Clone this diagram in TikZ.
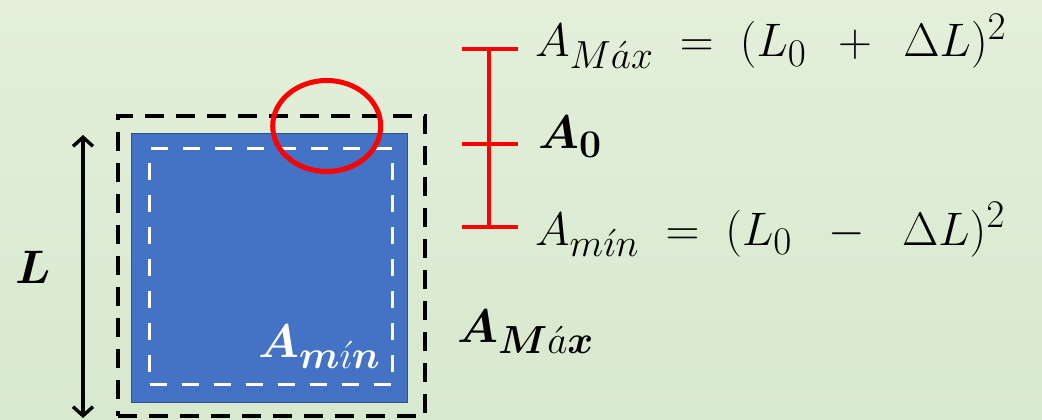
\documentclass[tikz,border=0pt]{standalone}
\usepackage{graphicx}
\usepackage{bm}
\usetikzlibrary{arrows.meta,shapes.geometric}
\definecolor{bgtop}{HTML}{E3EFDA}
\definecolor{bgbot}{HTML}{D7E9CE}
\definecolor{sqblue}{HTML}{4472C4}
\definecolor{sqedge}{HTML}{2F528F}
\newcommand\mybigmath[1]{\scalebox{1.89}{\Huge$#1$}}
\tikzset{
  eqtext/.style={inner sep=0pt, anchor=base west},
  redbar/.style={draw=red, line width=4pt},
  blackdash/.style={draw=black, line width=4pt, dash pattern=on 19pt off 12pt},
  whitedash/.style={draw=white, line width=3.8pt, dash pattern=on 17pt off 15pt},
}
\begin{document}
\begin{tikzpicture}[x=1pt,y=1pt]
\shade[top color=bgtop, bottom color=bgbot] (0,0) rectangle (1042,-420);
\useasboundingbox (0,0) rectangle (1042,-420);
% outer dashed square (A_Max)
\node (outer) [blackdash, minimum width=307pt, minimum height=300pt, inner sep=0pt] at (271.5,-265.5) {};
% blue square
\node (blue) [fill=sqblue, draw=sqedge, line width=1.5pt, minimum width=276pt, minimum height=269pt, inner sep=0pt] at (269.5,-268) {};
% inner dashed square (A_min)
\node (inner) [whitedash, minimum width=243pt, minimum height=236pt, inner sep=0pt] at (271,-266.5) {};
% red ellipse
\node (circ) [ellipse, draw=red, line width=5pt, minimum width=108pt, minimum height=91pt, inner sep=0pt] at (326.7,-126) {};
% L arrow
\coordinate (atop) at (83,-135);
\coordinate (abot) at (83,-418);
\draw[line width=3.4pt, {Straight Barb[length=9pt,width=20pt]}-{Straight Barb[length=9pt,width=20pt]}] (atop) -- (abot);
\node (L) [eqtext] at (15,-283) {\mybigmath{\bm{L}}};
% red bar
\coordinate (btop) at (489,-49);
\coordinate (bmid) at (489,-144);
\coordinate (bbot) at (489,-227);
\draw[redbar] (btop) -- (bbot);
\draw[redbar] ([xshift=-27pt]btop) -- ([xshift=29pt]btop);
\draw[redbar] ([xshift=-27pt]bmid) -- ([xshift=29pt]bmid);
\draw[redbar] ([xshift=-27pt]bbot) -- ([xshift=29pt]bbot);
% texts
\node (amax) [eqtext] at (535,-57) {\mybigmath{A_{M\acute{a}x}\;=\;(L_0\;\,+\;\,\Delta L)^2}};
\node (a0) [eqtext] at (538,-148) {\mybigmath{\bm{A_0}}};
\node (amin) [eqtext] at (535,-245) {\mybigmath{A_{m\acute{\imath}n}\;=\;(L_0\;\;-\;\;\Delta L)^2}};
\node (amaxlab) [eqtext] at (457,-342) {\mybigmath{\bm{A}_{\bm{M}\acute{a}\bm{x}}}};
\node (aminlab) [eqtext, text=white] at (258,-357) {\mybigmath{\bm{A}_{\bm{m}\acute{\imath}\bm{n}}}};
\end{tikzpicture}
\end{document}
